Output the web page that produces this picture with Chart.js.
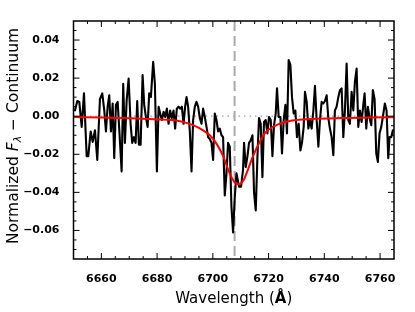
<!DOCTYPE html>
<html lang="en">
<head>
<meta charset="UTF-8">
<title>Li 6708 line fit</title>
<script src="https://cdn.jsdelivr.net/npm/chart.js"></script>
<style>
  html, body { margin: 0; padding: 0; background: #fff; }
</style>
</head>
<body>
<canvas id="chart" width="415" height="312"></canvas>
<script>
// observed spectrum (continuum subtracted)
const wave = [6650.54, 6651.36, 6652.08, 6652.94, 6653.76, 6654.73, 6655.30, 6656.16, 6656.88, 6657.70,
  6658.53, 6659.49, 6660.32, 6661.04, 6661.64, 6662.25, 6662.83, 6663.44, 6664.05, 6664.62,
  6665.23, 6665.84, 6666.41, 6667.27, 6667.84, 6668.45, 6669.06, 6669.78, 6670.49, 6671.07,
  6671.68, 6672.29, 6672.86, 6673.47, 6674.08, 6674.79, 6675.37, 6675.98, 6676.59, 6677.16,
  6677.77, 6678.59, 6679.20, 6679.92, 6680.53, 6681.10, 6681.71, 6682.32, 6682.89, 6683.50,
  6684.11, 6684.68, 6685.29, 6685.90, 6686.47, 6687.08, 6687.69, 6688.27, 6688.88, 6689.49,
  6690.06, 6690.56, 6691.13, 6691.74, 6692.35, 6692.92, 6693.53, 6694.14, 6694.72, 6695.33,
  6695.93, 6696.51, 6697.12, 6697.73, 6698.30, 6698.91, 6699.52, 6700.09, 6700.70, 6701.31,
  6701.88, 6702.49, 6703.10, 6703.67, 6704.28, 6704.89, 6705.46, 6706.07, 6706.68, 6707.26,
  6707.87, 6708.47, 6709.41, 6710.12, 6710.84, 6711.20, 6711.81, 6712.42, 6712.99, 6713.60,
  6714.21, 6714.78, 6715.39, 6716.00, 6716.57, 6717.18, 6717.79, 6718.36, 6718.97, 6719.58,
  6720.16, 6720.77, 6721.38, 6721.95, 6722.56, 6723.02, 6723.63, 6724.24, 6724.81, 6725.42,
  6726.03, 6726.60, 6727.21, 6727.82, 6728.40, 6729.01, 6729.61, 6730.19, 6730.80, 6731.41,
  6731.98, 6732.59, 6733.06, 6733.67, 6734.27, 6734.85, 6735.46, 6736.07, 6736.64, 6737.25,
  6737.86, 6738.43, 6739.04, 6739.65, 6740.22, 6740.83, 6741.44, 6742.01, 6742.62, 6743.23,
  6743.80, 6744.41, 6745.02, 6745.59, 6746.20, 6746.81, 6747.39, 6748.00, 6748.61, 6749.18,
  6749.79, 6750.40, 6750.97, 6751.58, 6752.19, 6752.76, 6753.37, 6753.98, 6754.45, 6755.05,
  6755.63, 6756.24, 6756.85, 6757.42, 6758.03, 6758.64, 6759.21, 6759.82, 6760.43, 6761.00,
  6761.72, 6762.33, 6762.94, 6763.40, 6764.01, 6764.59];
const flux = [0.003, 0.008, 0.0075, -0.0056, 0.012, -0.021, -0.021, -0.008, -0.0135, -0.0074,
  -0.023, 0.009, 0.012, 0.003, -0.008, 0.005, 0.011, -0.008, 0.0067, -0.022,
  0.006, 0.0075, -0.0065, -0.029, 0.017, -0.014, 0.008, 0.0198, -0.004, -0.014,
  -0.011, -0.014, 0.008, -0.015, -0.015, 0.0216, 0.006, -0.0004, -0.0056, 0.012,
  0.010, 0.0286, 0.017, -0.029, 0.005, 0.0014, -0.002, 0.0023, -0.0004, 0.004,
  -0.004, 0.003, -0.001, 0.003, -0.0065, 0.004, 0.005, 0.004, 0.005, -0.004,
  0.005, 0.010, 0.005, -0.008, -0.029, -0.002, 0.005, 0.0075, 0.005, -0.001,
  -0.004, 0.004, -0.0004, -0.0056, -0.011, -0.012, -0.014, -0.023, 0.0014, -0.002,
  -0.008, -0.0065, -0.010, -0.011, -0.0416, -0.030, -0.014, -0.016, -0.0477, -0.061,
  -0.0425, -0.030, -0.037, -0.037, -0.028, -0.014, -0.0267, -0.021, -0.014, -0.0126,
  -0.010, -0.040, -0.0495, -0.021, -0.001, -0.004, -0.032, -0.003, -0.002, -0.009,
  -0.0004, -0.002, -0.021, -0.0047, 0.0014, 0.0146, -0.0004, -0.0004, -0.0196, -0.002,
  0.006, -0.009, 0.0295, 0.027, 0.010, 0.0014, 0.003, -0.011, -0.004, -0.018,
  -0.014, -0.0056, 0.0128, 0.0075, -0.0065, -0.002, -0.0065, 0.003, 0.016, -0.002,
  -0.016, -0.002, 0.0075, 0.0067, 0.008, 0.011, -0.001, -0.0065, -0.011, -0.0205,
  0.003, 0.005, 0.010, 0.0137, 0.0146, -0.011, 0.003, 0.0277, -0.002, -0.004,
  0.0128, 0.003, 0.018, 0.025, -0.0056, 0.003, -0.003, 0.006, 0.012, -0.0065,
  0.005, -0.001, -0.0047, 0.0137, 0.009, -0.0196, -0.024, -0.009, -0.0056, -0.0004,
  0.0067, 0.003, -0.022, -0.011, -0.011, -0.0074];

// fitted line profile
const fitWave = [6650.5, 6660.7, 6672.6, 6682.2, 6688.2, 6692.9, 6696.5, 6698.9, 6701.3, 6703.7,
  6705.5, 6707.3, 6708.2, 6709.2, 6710.1, 6711.0, 6712.6, 6714.4, 6716.8, 6719.2,
  6721.6, 6725.2, 6730.0, 6737.1, 6746.7, 6756.2, 6765.0];
const fitFlux = [-0.0004, -0.0007, -0.0012, -0.0018, -0.0026, -0.0047, -0.0074, -0.0100, -0.0144, -0.0210,
  -0.0280, -0.0337, -0.0353, -0.0358, -0.0353, -0.0337, -0.0280, -0.0210, -0.0135, -0.0080,
  -0.0056, -0.0033, -0.0020, -0.0014, -0.0009, -0.0007, -0.0005];

const lineCenter = 6707.8;
const xTicks = [6660, 6680, 6700, 6720, 6740, 6760];
const yTicks = [-0.06, -0.04, -0.02, 0.00, 0.02, 0.04];
const xRange = [6650, 6765];
const yRange = [-0.075, 0.05];

const FONT = '"DejaVu Sans", sans-serif';

// frame, inward ticks, reference lines and axis titles (matplotlib look)
const decor = {
  id: 'decor',
  beforeDatasetsDraw(chart) {
    const { ctx, chartArea: a, scales: { x, y } } = chart;
    ctx.save();
    ctx.beginPath();
    ctx.rect(a.left, a.top, a.width, a.height);
    ctx.clip();
    ctx.strokeStyle = '#a0a0a0';
    ctx.lineWidth = 1.3;
    ctx.setLineDash([1.5, 4]);
    const y0 = y.getPixelForValue(0);
    ctx.beginPath();
    ctx.moveTo(a.left, y0);
    ctx.lineTo(a.right, y0);
    ctx.stroke();
    ctx.strokeStyle = '#aaaaaa';
    ctx.lineWidth = 2;
    ctx.setLineDash([10, 5]);
    const xc = x.getPixelForValue(lineCenter);
    ctx.beginPath();
    ctx.moveTo(xc, a.top);
    ctx.lineTo(xc, a.bottom);
    ctx.stroke();
    ctx.restore();
  },
  afterDatasetsDraw(chart) {
    const { ctx, chartArea: a, scales: { x, y } } = chart;
    ctx.save();
    ctx.strokeStyle = '#000';
    ctx.lineWidth = 1;
    ctx.beginPath();
    for (let v = xRange[0] + 5; v < xRange[1]; v += 5) {
      const px = x.getPixelForValue(v);
      const len = v % 20 === 0 ? 6 : 3;
      ctx.moveTo(px, a.bottom); ctx.lineTo(px, a.bottom - len);
      ctx.moveTo(px, a.top); ctx.lineTo(px, a.top + len);
    }
    for (let k = -14; k <= 9; k++) {
      const py = y.getPixelForValue(k * 0.005);
      const len = k % 4 === 0 ? 6 : 3;
      ctx.moveTo(a.left, py); ctx.lineTo(a.left + len, py);
      ctx.moveTo(a.right, py); ctx.lineTo(a.right - len, py);
    }
    ctx.stroke();
    ctx.lineWidth = 1.5;
    ctx.strokeRect(a.left, a.top, a.width, a.height);
    ctx.restore();
  },
  afterDraw(chart) {
    const { ctx, chartArea: a } = chart;
    ctx.save();
    ctx.fillStyle = '#000';
    ctx.textBaseline = 'alphabetic';

    // x title
    const xs = [
      { t: 'Wavelength (', f: '15px ' + FONT },
      { t: 'Å', f: 'bold 15px ' + FONT },
      { t: ')', f: '15px ' + FONT }
    ];
    let w = 0;
    xs.forEach(p => { ctx.font = p.f; p.w = ctx.measureText(p.t).width; w += p.w; });
    let cx = (a.left + a.right) / 2 - w / 2;
    xs.forEach(p => { ctx.font = p.f; ctx.fillText(p.t, cx, 303); cx += p.w; });

    // y title
    const ys = [
      { t: 'Normalized ', f: '15.5px ' + FONT, dy: 0 },
      { t: 'F', f: 'italic 15.5px ' + FONT, dy: 0 },
      { t: 'λ', f: 'italic 11px ' + FONT, dy: 3 },
      { t: ' − Continuum', f: '15.5px ' + FONT, dy: 0 }
    ];
    w = 0;
    ys.forEach(p => { ctx.font = p.f; p.w = ctx.measureText(p.t).width; w += p.w; });
    ctx.translate(18, 136);
    ctx.rotate(-Math.PI / 2);
    let cy = -w / 2;
    ys.forEach(p => { ctx.font = p.f; ctx.fillText(p.t, cy, p.dy); cy += p.w; });
    ctx.restore();
  }
};

const fmt = v => v.toFixed(2).replace('-', '\u2212');

new Chart(document.getElementById('chart'), {
  type: 'line',
  data: {
    datasets: [
      {
        label: 'Fit',
        data: fitWave.map((v, i) => ({ x: v, y: fitFlux[i] })),
        borderColor: '#ff0000',
        borderWidth: 2,
        pointRadius: 0,
        borderJoinStyle: 'round',
        borderCapStyle: 'round',
        cubicInterpolationMode: 'monotone',
        order: 0
      },
      {
        label: 'Spectrum',
        data: wave.map((v, i) => ({ x: v, y: flux[i] })),
        borderColor: '#000000',
        borderWidth: 2.1,
        pointRadius: 0,
        borderJoinStyle: 'round',
        borderCapStyle: 'round',
        tension: 0,
        order: 1
      }
    ]
  },
  options: {
    responsive: false,
    animation: false,
    layout: { padding: { left: 0, right: 21, top: 21, bottom: 0 } },
    plugins: { legend: { display: false }, tooltip: { enabled: false } },
    scales: {
      x: {
        type: 'linear',
        min: xRange[0],
        max: xRange[1],
        grid: { display: false },
        border: { display: false },
        afterBuildTicks: s => { s.ticks = xTicks.map(v => ({ value: v })); },
        afterFit: s => { s.height = 53; },
        ticks: {
          padding: 6,
          maxRotation: 0,
          color: '#000',
          font: { family: FONT, weight: 'bold', size: 11 },
          callback: v => String(v)
        }
      },
      y: {
        type: 'linear',
        min: yRange[0],
        max: yRange[1],
        grid: { display: false },
        border: { display: false },
        afterBuildTicks: s => { s.ticks = yTicks.map(v => ({ value: v })); },
        afterFit: s => { s.width = 73.5; },
        ticks: {
          padding: 6,
          color: '#000',
          font: { family: FONT, weight: 'bold', size: 11 },
          callback: v => fmt(v)
        }
      }
    }
  },
  plugins: [decor]
});
</script>
</body>
</html>
